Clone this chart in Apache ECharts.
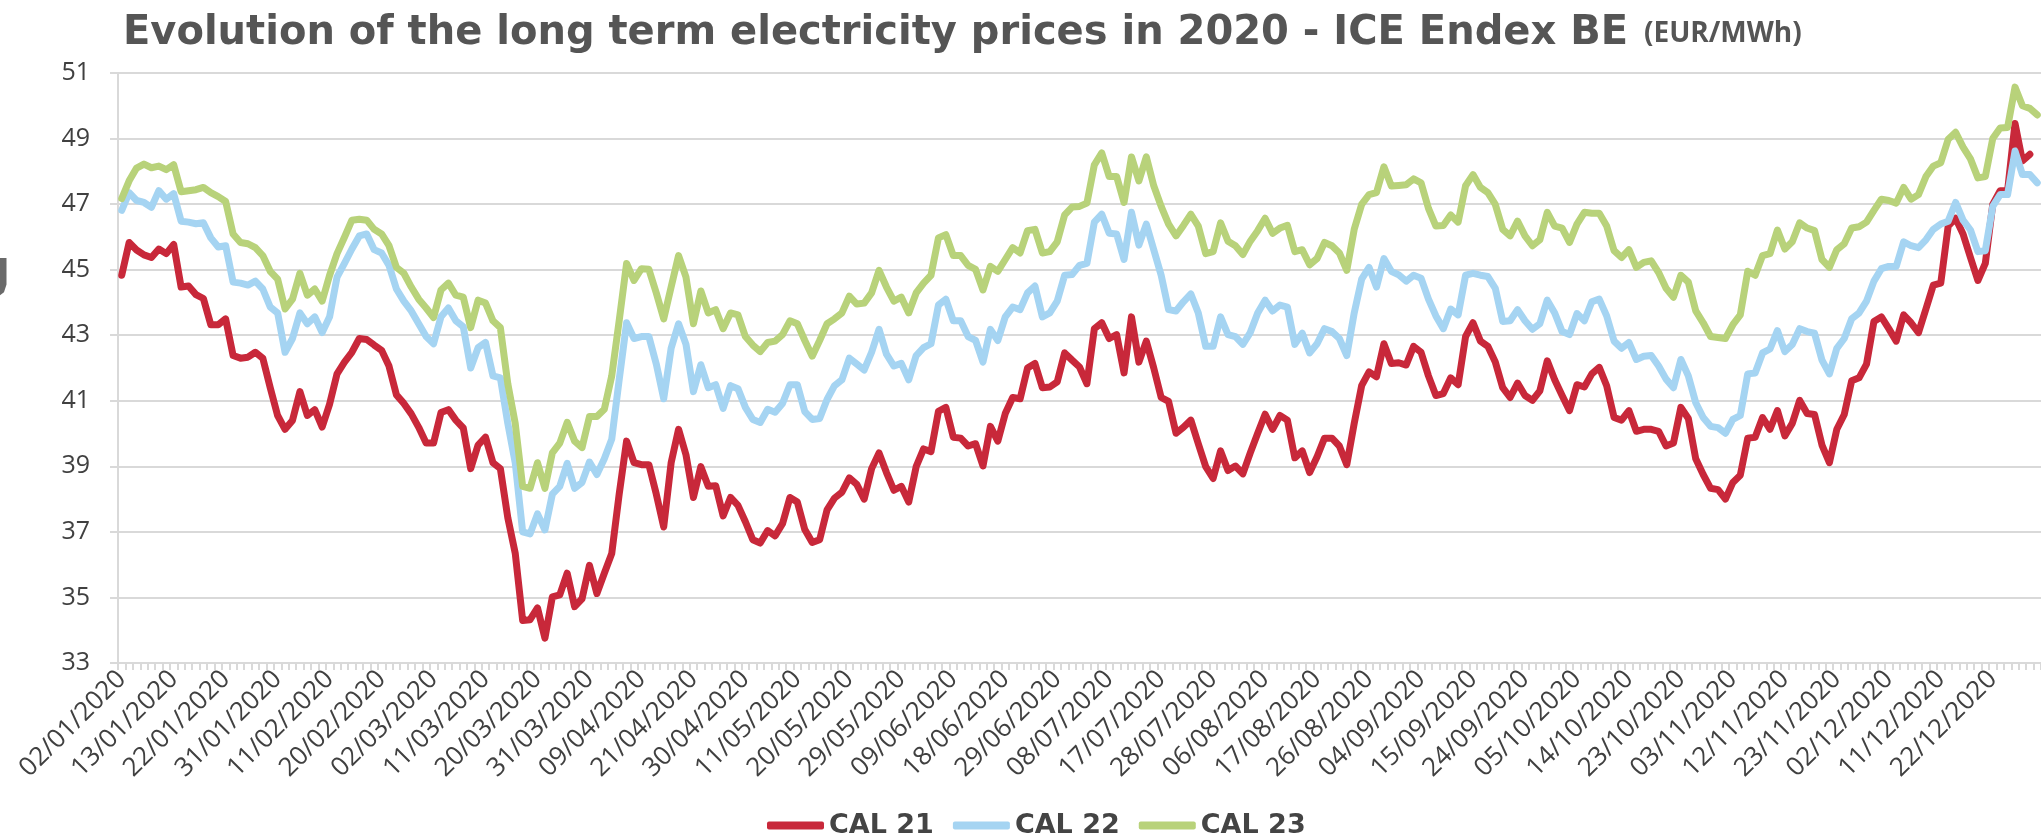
<!DOCTYPE html>
<html>
<head>
<meta charset="utf-8">
<script src="https://cdn.jsdelivr.net/npm/echarts@6/dist/echarts.min.js"></script>
<style>
  html, body { margin: 0; padding: 0; background: #fff; }
  #chart { width: 2041px; height: 836px; }
</style>
</head>
<body>
<div id="chart"></div>
<script>
// trading days 2020 (weekdays from 02/01, exchange closed on these)
const closedDays = ['10/04/2020', '25/12/2020'];
const seriesNames = ['CAL 21', 'CAL 22', 'CAL 23'];
const yTicks = { min: 33, max: 51, step: 2 };

const cal21 = [
  44.83, 45.83, 45.6, 45.45, 45.37, 45.63, 45.49, 45.77, 44.47, 44.5, 44.24, 44.12, 43.32, 43.32, 43.5, 42.38,
  42.3, 42.33, 42.48, 42.3, 41.4, 40.55, 40.13, 40.4, 41.28, 40.55, 40.73, 40.2, 40.9, 41.82, 42.18, 42.48,
  42.9, 42.87, 42.7, 42.54, 42.06, 41.18, 40.92, 40.6, 40.19, 39.71, 39.71, 40.64, 40.73, 40.41, 40.17, 38.93,
  39.65, 39.89, 39.11, 38.93, 37.43, 36.35, 34.3, 34.32, 34.68, 33.76, 35.02, 35.08, 35.74, 34.72, 34.96, 35.98,
  35.12, 35.74, 36.34, 38.15, 39.77, 39.11, 39.05, 39.05, 38.15, 37.15, 39.11, 40.13, 39.35, 38.05, 38.99, 38.39,
  38.41, 37.49, 38.05, 37.81, 37.31, 36.76, 36.66, 37.04, 36.88, 37.25, 38.05, 37.91, 37.07, 36.68, 36.76, 37.67,
  38.03, 38.21, 38.65, 38.45, 38.0, 38.93, 39.41, 38.81, 38.27, 38.39, 37.91, 38.99, 39.53, 39.45, 40.68, 40.8,
  39.89, 39.86, 39.62, 39.69, 39.01, 40.22, 39.77, 40.61, 41.1, 41.06, 42.0, 42.14, 41.4, 41.42, 41.58, 42.46,
  42.24, 42.03, 41.52, 43.2, 43.38, 42.9, 43.02, 41.85, 43.56, 42.18, 42.82, 42.0, 41.1, 40.98, 40.01, 40.19,
  40.41, 39.69, 38.99, 38.63, 39.47, 38.87, 39.01, 38.77, 39.41, 40.01, 40.59, 40.13, 40.55, 40.41, 39.26, 39.47,
  38.81, 39.29, 39.86, 39.86, 39.62, 39.05, 40.31, 41.46, 41.88, 41.73, 42.74, 42.14, 42.16, 42.09, 42.66, 42.48,
  41.76, 41.16, 41.22, 41.7, 41.49, 42.96, 43.38, 42.82, 42.66, 42.18, 41.4, 41.1, 41.54, 41.16, 41.01, 41.3,
  42.22, 41.64, 41.16, 40.7, 41.49, 41.42, 41.82, 42.02, 41.46, 40.49, 40.41, 40.7, 40.07, 40.13, 40.13, 40.07,
  39.62, 39.71, 40.8, 40.46, 39.23, 38.75, 38.33, 38.29, 38.0, 38.51, 38.73, 39.86, 39.89, 40.49, 40.13, 40.7,
  39.93, 40.31, 41.01, 40.61, 40.58, 39.65, 39.11, 40.13, 40.58, 41.61, 41.7, 42.12, 43.42, 43.56, 43.2, 42.82,
  43.62, 43.38, 43.08, 43.8, 44.53, 44.59, 46.33, 46.57, 46.09, 45.37, 44.67, 45.19, 46.99, 47.41, 47.41, 49.46,
  48.32, 48.52, null
];

const cal22 = [
  46.81, 47.35, 47.11, 47.05, 46.9, 47.41, 47.15, 47.32, 46.48, 46.45, 46.4, 46.43, 45.97, 45.69, 45.73, 44.62,
  44.59, 44.53, 44.65, 44.41, 43.86, 43.68, 42.48, 42.9, 43.68, 43.35, 43.56, 43.08, 43.56, 44.77, 45.19, 45.63,
  46.03, 46.09, 45.61, 45.51, 45.13, 44.41, 44.04, 43.74, 43.35, 42.96, 42.74, 43.56, 43.83, 43.44, 43.26, 42.0,
  42.62, 42.78, 41.76, 41.7, 40.31, 39.11, 37.0, 36.94, 37.55, 37.06, 38.15, 38.39, 39.09, 38.33, 38.51, 39.13,
  38.75, 39.23, 39.83, 41.64, 43.38, 42.9, 42.96, 42.96, 42.12, 41.06, 42.6, 43.35, 42.72, 41.28, 42.1, 41.4,
  41.49, 40.77, 41.46, 41.37, 40.8, 40.43, 40.34, 40.74, 40.65, 40.92, 41.49, 41.49, 40.67, 40.43, 40.46, 41.04,
  41.46, 41.64, 42.3, 42.12, 41.94, 42.48, 43.18, 42.42, 42.06, 42.14, 41.64, 42.38, 42.62, 42.74, 43.92, 44.1,
  43.44, 43.44, 42.96, 42.84, 42.18, 43.18, 42.84, 43.56, 43.86, 43.78, 44.29, 44.5, 43.56, 43.68, 44.04, 44.83,
  44.85, 45.13, 45.19, 46.45, 46.69, 46.11, 46.09, 45.31, 46.75, 45.75, 46.39, 45.61, 44.83, 43.78, 43.74, 44.02,
  44.26, 43.68, 42.66, 42.66, 43.56, 43.02, 42.96, 42.72, 43.08, 43.68, 44.07, 43.74, 43.92, 43.86, 42.72, 43.06,
  42.46, 42.74, 43.2, 43.11, 42.9, 42.38, 43.68, 44.71, 45.07, 44.47, 45.34, 44.95, 44.84, 44.65, 44.83, 44.74,
  44.1, 43.59, 43.2, 43.8, 43.62, 44.83, 44.89, 44.83, 44.79, 44.43, 43.42, 43.44, 43.78, 43.44, 43.18, 43.35,
  44.07, 43.68, 43.11, 43.02, 43.66, 43.44, 44.02, 44.1, 43.59, 42.82, 42.6, 42.78, 42.26, 42.36, 42.38, 42.06,
  41.66, 41.4, 42.26, 41.76, 40.94, 40.49, 40.22, 40.18, 40.01, 40.43, 40.55, 41.82, 41.85, 42.46, 42.58, 43.14,
  42.5, 42.72, 43.2, 43.11, 43.06, 42.24, 41.82, 42.6, 42.9, 43.5, 43.68, 44.04, 44.65, 45.03, 45.1, 45.1,
  45.85, 45.73, 45.67, 45.91, 46.23, 46.39, 46.48, 47.05, 46.51, 46.21, 45.55, 45.58, 46.93, 47.29, 47.29, 48.62,
  47.9, 47.9, 47.65
];

const cal23 = [
  47.17, 47.71, 48.1, 48.22, 48.11, 48.16, 48.05, 48.2, 47.38, 47.41, 47.44, 47.51, 47.35, 47.23, 47.08, 46.09,
  45.83, 45.79, 45.67, 45.43, 44.95, 44.71, 43.8, 44.1, 44.89, 44.22, 44.41, 44.04, 44.83, 45.49, 45.99, 46.51,
  46.54, 46.51, 46.23, 46.09, 45.73, 45.07, 44.89, 44.47, 44.1, 43.83, 43.54, 44.38, 44.59, 44.22, 44.16, 43.23,
  44.07, 43.98, 43.44, 43.23, 41.52, 40.31, 38.39, 38.33, 39.11, 38.33, 39.41, 39.71, 40.34, 39.77, 39.57, 40.52,
  40.52, 40.74, 41.76, 43.44, 45.19, 44.67, 45.03, 45.01, 44.29, 43.5, 44.47, 45.43, 44.77, 43.35, 44.35, 43.68,
  43.78, 43.2, 43.68, 43.62, 42.96, 42.7, 42.5, 42.78, 42.82, 43.02, 43.44, 43.35, 42.84, 42.36, 42.84, 43.35,
  43.5, 43.68, 44.19, 43.95, 43.98, 44.29, 44.98, 44.47, 44.04, 44.16, 43.68, 44.29, 44.59, 44.83, 45.97, 46.07,
  45.43, 45.43, 45.13, 45.01, 44.38, 45.1, 44.95, 45.31, 45.67, 45.51, 46.19, 46.23, 45.51, 45.55, 45.85, 46.67,
  46.91, 46.93, 47.03, 48.2, 48.56, 47.84, 47.84, 47.05, 48.44, 47.71, 48.44, 47.56, 46.93, 46.39, 46.03, 46.35,
  46.69, 46.33, 45.49, 45.55, 46.43, 45.87, 45.73, 45.46, 45.87, 46.19, 46.57, 46.11, 46.27, 46.35, 45.55, 45.61,
  45.15, 45.34, 45.83, 45.73, 45.51, 44.98, 46.23, 46.99, 47.29, 47.35, 48.14, 47.55, 47.57, 47.59, 47.77, 47.65,
  46.87, 46.33, 46.35, 46.67, 46.45, 47.56, 47.9, 47.51, 47.35, 46.99, 46.23, 46.03, 46.48, 46.03, 45.73, 45.91,
  46.75, 46.33, 46.27, 45.83, 46.39, 46.75, 46.72, 46.72, 46.33, 45.58, 45.37, 45.61, 45.07, 45.22, 45.27, 44.91,
  44.43, 44.16, 44.83, 44.62, 43.74, 43.38, 42.96, 42.93, 42.9, 43.32, 43.62, 44.95, 44.83, 45.43, 45.49, 46.21,
  45.63, 45.85, 46.43, 46.27, 46.19, 45.31, 45.07, 45.61, 45.79, 46.27, 46.31, 46.45, 46.81, 47.15, 47.11, 47.03,
  47.51, 47.15, 47.29, 47.84, 48.16, 48.26, 48.98, 49.19, 48.74, 48.38, 47.8, 47.84, 49.0, 49.32, 49.34, 50.57,
  50.0, 49.92, 49.72
];

const colors = ['#C8283A', '#A5D4F2', '#B8D27A'];

function pad(n) { return n < 10 ? '0' + n : '' + n; }
const dates = [];
for (let d = new Date(Date.UTC(2020, 0, 2)); d.getUTCFullYear() === 2020; d.setUTCDate(d.getUTCDate() + 1)) {
  const wd = d.getUTCDay();
  if (wd === 0 || wd === 6) continue;
  const s = pad(d.getUTCDate()) + '/' + pad(d.getUTCMonth() + 1) + '/2020';
  if (closedDays.indexOf(s) >= 0) continue;
  dates.push(s);
}

const chart = echarts.init(document.getElementById('chart'));
const font = '"Open Sans", "Noto Sans", sans-serif';
const titleFont = '"DejaVu Sans", sans-serif';

const option = {
  animation: false,
  color: colors,
  textStyle: { fontFamily: font },
  title: {
    left: 118,
    top: 4,
    text: '{main|Evolution of the long term electricity prices in 2020 - ICE Endex BE}{gap| }{unit|(EUR/MWh)}',
    textStyle: {
      rich: {
        main: { fontFamily: titleFont, fontSize: 40, fontWeight: 'bold', color: '#555555', lineHeight: 50 },
        gap: { fontFamily: font, fontSize: 28, width: 16, lineHeight: 50 },
        unit: { fontFamily: font, fontSize: 28, fontWeight: 'bold', color: '#555555', lineHeight: 50 }
      }
    }
  },
  legend: {
    left: 762,
    top: 807,
    icon: 'roundRect',
    itemWidth: 57,
    itemHeight: 8,
    itemGap: 19,
    textStyle: { fontFamily: titleFont, fontSize: 27, fontWeight: 'bold', color: '#444444' },
    data: seriesNames
  },
  graphic: [{
    type: 'polyline',
    shape: { points: [[3, 258], [3, 284], [1, 290], [-3, 293], [-8, 294]] },
    style: { fill: null, stroke: '#6a6a6a', lineWidth: 7 }
  }],
  grid: { left: 118, right: 0, top: 73, bottom: 173, containLabel: false },
  xAxis: {
    type: 'category',
    data: dates,
    boundaryGap: true,
    axisLine: { show: true, lineStyle: { color: '#D9D9D9', width: 2 } },
    axisTick: { show: true, interval: 0, length: 7, lineStyle: { color: '#D9D9D9', width: 2 } },
    axisLabel: {
      interval: 6,
      rotate: 45,
      margin: 12,
      fontSize: 26,
      color: '#404040',
      fontFamily: font
    }
  },
  yAxis: {
    type: 'value',
    min: yTicks.min,
    max: yTicks.max,
    interval: yTicks.step,
    axisLine: { show: true, lineStyle: { color: '#D9D9D9', width: 2 } },
    axisTick: { show: true, length: 8, lineStyle: { color: '#D9D9D9', width: 2 } },
    splitLine: { show: true, lineStyle: { color: '#D9D9D9', width: 2 } },
    axisLabel: { margin: 28, fontSize: 25, color: '#404040', fontFamily: font }
  },
  series: [cal21, cal22, cal23].map(function (vals, k) {
    return {
      name: seriesNames[k],
      type: 'line',
      data: vals,
      symbol: 'none',
      connectNulls: false,
      lineStyle: { width: 7, color: colors[k], join: 'round', cap: 'round' }
    };
  })
};
chart.setOption(option);
</script>
</body>
</html>
